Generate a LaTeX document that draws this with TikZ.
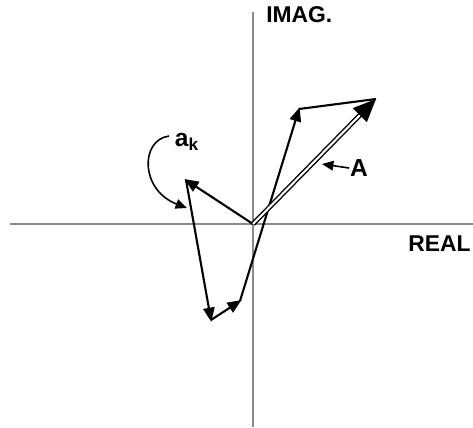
\documentclass[tikz,border=0pt]{standalone}
\usepackage{fontspec}
\setmainfont{Liberation Sans}
\usepackage{tikz}
\usetikzlibrary{arrows.meta}
\definecolor{axisgray}{HTML}{8A8A8A}

\begin{document}
\begin{tikzpicture}[
  x=0.02cm, y=-0.02cm,
  axis/.style={axisgray, line width=0.9pt},
  label/.style={font=\fontsize{13}{15}\selectfont\bfseries, inner sep=0pt},
  phasor/.style={-{Triangle[length=8pt, width=6.5pt]}, line width=1.2pt, shorten >=-1pt},
  resultant/.style={double, double distance=1.2pt, line width=0.8pt},
  pointer/.style={-{Triangle[length=6.5pt, width=5.5pt]}, line width=0.9pt}
]
  \useasboundingbox (0,0) rectangle (473,427);

  % axes
  \coordinate (xl) at (10,224);
  \coordinate (xr) at (473,224);
  \coordinate (yt) at (253,12);
  \coordinate (yb) at (253,427);
  \draw[axis] (xl) -- (xr);
  \draw[axis] (yt) -- (yb);
  \node[label, anchor=west] (imag) at (266,15) {IMAG.};
  \node[label, anchor=east] (real) at (471,244) {REAL};

  % chain of phasors
  \coordinate (o) at (253,224);
  \coordinate (p1) at (186,180);
  \coordinate (p2) at (211,320);
  \coordinate (p3) at (240,301);
  \coordinate (p4) at (299,109);
  \coordinate (p5) at (376,99);
  \coordinate (p5b) at (363,112);
  \draw[phasor] (o) -- (p1);
  \draw[phasor] (p1) -- (p2);
  \draw[phasor] (p2) -- (p3);
  \draw[phasor] (p3) -- (p4);
  \draw[line width=1.2pt] (p4) -- (p5);
  \draw[resultant] (o) -- (p5b);
  \draw[-{Triangle[length=13pt, width=11pt]}, line width=1.2pt] (p5b) -- (p5);

  % labels
  \node[label, font=\fontsize{14}{16}\selectfont\bfseries] (ak) at (187,142) {a\textsubscript{k}};
  \coordinate (akfrom) at (169,136);
  \coordinate (akto) at (187,208);
  \draw[pointer] (akfrom) .. controls (140,140) and (140,190) .. (akto);

  \node[label, font=\fontsize{14}{16}\selectfont\bfseries] (a) at (359,168) {A};
  \coordinate (afrom) at (349,168);
  \coordinate (ato) at (322,164);
  \draw[pointer] (afrom) -- (ato);
\end{tikzpicture}
\end{document}
